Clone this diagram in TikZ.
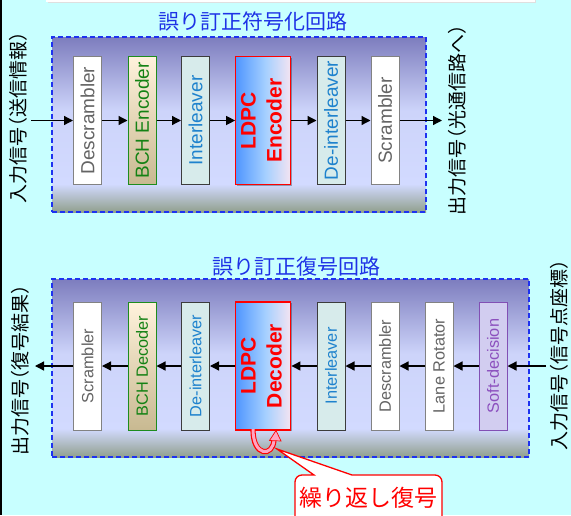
\documentclass[tikz,border=0pt]{standalone}
\usepackage{fontspec}
\usepackage{graphicx}
\setmainfont{Liberation Sans}
\newfontfamily\cjk{Noto Sans CJK JP}
\usetikzlibrary{arrows.meta,shadows}

\definecolor{bg}{RGB}{200,255,255}
\definecolor{ttlblue}{RGB}{30,50,230}
\definecolor{dashblue}{RGB}{30,50,240}
\definecolor{gTop}{RGB}{125,125,190}
\definecolor{gLight}{RGB}{210,218,255}
\definecolor{gLight2}{RGB}{205,212,250}
\definecolor{gBot}{RGB}{145,160,142}
\definecolor{scrT}{RGB}{100,100,100}
\definecolor{scrB}{RGB}{130,130,130}
\definecolor{bchT}{RGB}{20,130,20}
\definecolor{bchB}{RGB}{30,140,30}
\definecolor{bchTop}{RGB}{255,242,220}
\definecolor{bchBot}{RGB}{200,185,145}
\definecolor{intF}{RGB}{215,235,235}
\definecolor{intB}{RGB}{60,60,60}
\definecolor{intT}{RGB}{30,130,205}
\definecolor{ldpcL}{RGB}{80,150,255}
\definecolor{ldpcM}{RGB}{165,208,255}
\definecolor{ldpcR}{RGB}{245,228,242}
\definecolor{ldpcB}{RGB}{255,0,0}
\definecolor{sdF}{RGB}{210,205,240}
\definecolor{sdB}{RGB}{130,80,180}
\definecolor{sdT}{RGB}{140,80,190}
\definecolor{loopP}{RGB}{255,165,195}

\pgfdeclareverticalshading{grpshade}{100bp}{color(0bp)=(gBot); color(25bp)=(gBot); color(33bp)=(gLight); color(54bp)=(gLight2); color(75bp)=(gTop); color(100bp)=(gTop)}
\pgfdeclarehorizontalshading{ldpcshade}{100bp}{color(0bp)=(ldpcL); color(25bp)=(ldpcL); color(52bp)=(ldpcM); color(75bp)=(ldpcR); color(100bp)=(ldpcR)}

\newcommand{\po}{\kern-0.5em（}
\newcommand{\pc}{）\kern-0.5em}

\tikzset{
  grp/.style={shading=grpshade, draw=dashblue, line width=1.3pt, dash pattern=on 5pt off 3pt, inner sep=0pt},
  ttl/.style={text=ttlblue, font=\cjk\fontsize{21}{24}\selectfont, inner sep=0pt},
  side/.style={rotate=90, font=\cjk\fontsize{19}{22}\selectfont, inner sep=0pt},
  blk/.style={minimum width=28pt, minimum height=128pt, inner sep=0pt, line width=1pt},
  erow/.style={font=\fontsize{19}{22}\selectfont},
  drow/.style={font=\fontsize{16.3}{19}\selectfont},
  scrbox/.style={blk, fill=white, draw=scrB, text=scrT},
  bchbox/.style={blk, draw=bchB, text=bchT, top color=bchTop, bottom color=bchBot},
  intbox/.style={blk, fill=intF, draw=intB, text=intT},
  sdbox/.style={blk, fill=sdF, draw=sdB, text=sdT},
  ldpcbox/.style={blk, minimum width=55pt, draw=ldpcB, line width=1.3pt, text=ldpcB,
     shading=ldpcshade,
     drop shadow={shadow xshift=1.2pt, shadow yshift=-1.2pt, opacity=0.3, fill=black},
     font=\bfseries\fontsize{21}{26}\selectfont},
  arr/.style={-{Triangle[length=9pt,width=9pt]}, line width=1.3pt, black},
}

\begin{document}
\begin{tikzpicture}[x=1pt,y=-1pt]
\fill[bg] (0,0) rectangle (571,515);
\clip (0,0) rectangle (571,515);
% fragment of a box above
\fill[gray!25] (48,-10) rectangle (536,3.2);
\fill[white] (46,-10) rectangle (535,1.6);
\draw[black, line width=1.6pt] (0.8,0) -- (0.8,515);

% ===== encoder =====
\node[grp, minimum width=374pt, minimum height=175pt] (encgrp) at (239,124.5) {};
\node[ttl] (enctitle) at (253,22) {誤り訂正符号化回路};

\node[scrbox, erow] (e1) at (87.5,120.5) {\rotatebox{90}{Descrambler}};
\node[bchbox, erow] (e2) at (142,120.5) {\rotatebox{90}{BCH Encoder}};
\node[intbox, erow] (e3) at (195.5,120.5) {\rotatebox{90}{Interleaver}};
\node[ldpcbox] (e4) at (263.3,120.5) {\rotatebox{90}{\begin{tabular}{@{}c@{}}LDPC\\Encoder\end{tabular}}};
\node[intbox, erow] (e5) at (331,120.5) {\rotatebox{90}{De-interleaver}};
\node[scrbox, erow] (e6) at (385,120.5) {\rotatebox{90}{Scrambler}};

\coordinate (ein) at (31,120.5);
\coordinate (eout) at (442,120.5);
\draw[arr] (ein) -- (e1);
\draw[arr] (e1) -- (e2);
\draw[arr] (e2) -- (e3);
\draw[arr] (e3) -- (e4);
\draw[arr] (e4) -- (e5);
\draw[arr] (e5) -- (e6);
\draw[arr] (e6) -- (eout);

\node[side] (einlbl) at (18,117.5) {入力信号\po 送信情報\pc};
\node[side] (eoutlbl) at (457,120) {出力信号\po 光通信路へ\pc};

% ===== decoder =====
\node[grp, minimum width=477pt, minimum height=178pt] (decgrp) at (290.5,368) {};
\node[ttl] (dectitle) at (296,267) {誤り訂正復号回路};

\node[scrbox, drow] (d1) at (87.5,366) {\rotatebox{90}{Scrambler}};
\node[bchbox, drow] (d2) at (142,366) {\rotatebox{90}{BCH Decoder}};
\node[intbox, drow] (d3) at (195.5,366) {\rotatebox{90}{De-interleaver}};
\node[ldpcbox] (d4) at (263.3,366) {\rotatebox{90}{\begin{tabular}{@{}c@{}}LDPC\\Decoder\end{tabular}}};
\node[intbox, drow] (d5) at (331,366) {\rotatebox{90}{Interleaver}};
\node[scrbox, drow] (d6) at (385,366) {\rotatebox{90}{Descrambler}};
\node[scrbox, drow] (d7) at (439,366) {\rotatebox{90}{Lane Rotator}};
\node[sdbox, drow] (d8) at (493,366) {\rotatebox{90}{Soft-decision}};

\coordinate (din) at (546,366);
\coordinate (dout) at (35,366);
\draw[arr] (din) -- (d8);
\draw[arr] (d8) -- (d7);
\draw[arr] (d7) -- (d6);
\draw[arr] (d6) -- (d5);
\draw[arr] (d5) -- (d4);
\draw[arr] (d4) -- (d3);
\draw[arr] (d3) -- (d2);
\draw[arr] (d2) -- (d1);
\draw[arr] (d1) -- (dout);

\node[side] (doutlbl) at (20,370) {出力信号\po 復号結果\pc};
\node[side] (dinlbl) at (559,355) {入力信号\po 信号点座標\pc};

% iteration loop arrow
\draw[red, line width=5.2pt] (253,430) .. controls (253,457) and (273,457) .. (274,440);
\draw[loopP, line width=3pt] (253,429) .. controls (253,457) and (273,457) .. (274,440);
\filldraw[fill=loopP, draw=red, line width=0.7pt] (276,430.5) -- (269.5,440.5) -- (281,441) -- cycle;

% callout
\coordinate (tip) at (277,449);
\filldraw[fill=white, draw=red, line width=1.3pt] (295,530) -- (295,482)
  arc[start angle=180, end angle=270, radius=7] -- (314,475) -- (tip) -- (352,475) -- (435,475)
  arc[start angle=270, end angle=360, radius=7] -- (442,530) -- cycle;
\node[text=red, font=\cjk\fontsize{23}{26}\selectfont, inner sep=0pt] (calltx) at (368,498) {繰り返し復号};
\end{tikzpicture}
\end{document}
